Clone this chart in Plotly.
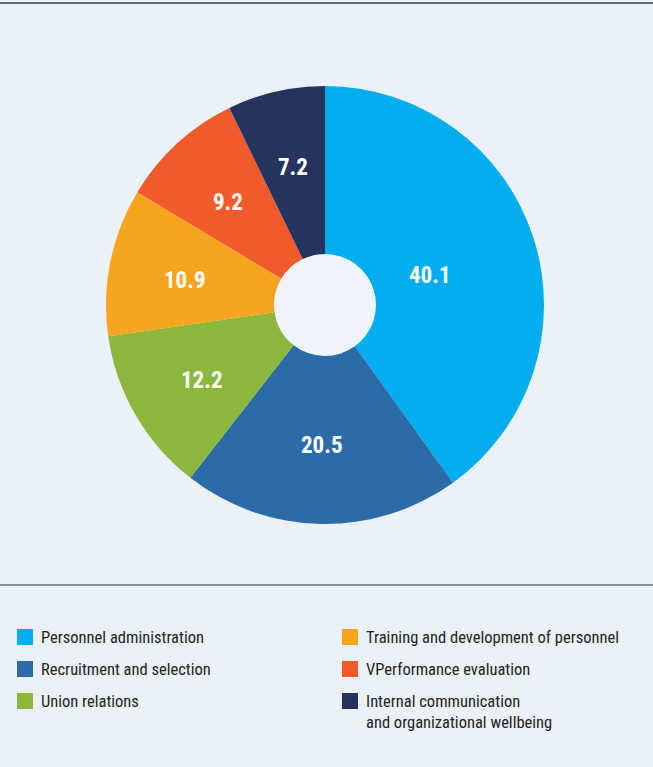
import math
import plotly.graph_objects as go

# Share of HR activity areas (%)
categories = [
    "Personnel administration",
    "Recruitment and selection",
    "Union relations",
    "Training and development of personnel",
    "VPerformance evaluation",
    "Internal communication<br>and organizational wellbeing",
]
values = [40.1, 20.5, 12.2, 10.9, 9.2, 7.2]
colors = ["#00AEEF", "#2B6BA8", "#8DB73C", "#F7A51F", "#F15B2B", "#26335F"]

W, H = 653, 767
BG = "#EAF1F8"
FONT = "Roboto Condensed, Roboto, sans-serif"

cx, cy, r = 325, 305, 219  # pie centre and radius in px
hole_px = 51

fig = go.Figure(
    go.Pie(
        labels=categories,
        values=values,
        marker=dict(colors=colors, line=dict(width=0)),
        sort=False,
        direction="clockwise",
        rotation=0,
        hole=hole_px / r,
        textinfo="none",
        showlegend=False,
        hoverinfo="label+value",
        domain=dict(x=[(cx - r) / W, (cx + r) / W], y=[1 - (cy + r) / H, 1 - (cy - r) / H]),
    )
)

shapes = [
    # slightly lighter disc showing through the hole
    dict(type="circle", xref="paper", yref="paper", layer="below",
         x0=(cx - hole_px) / W, x1=(cx + hole_px) / W,
         y0=1 - (cy + hole_px) / H, y1=1 - (cy - hole_px) / H,
         fillcolor="#EEF4FA", line=dict(width=0)),
    # top rule
    dict(type="line", xref="paper", yref="paper", x0=0, x1=1,
         y0=1 - 3 / H, y1=1 - 3 / H, line=dict(color="#3A3D42", width=1.5)),
    # divider above legend
    dict(type="line", xref="paper", yref="paper", x0=0, x1=1,
         y0=1 - 585 / H, y1=1 - 585 / H, line=dict(color="#6B6E72", width=1.5)),
]

annotations = []

# Value labels at each sector's centroid (clockwise from 12 o'clock)
total = sum(values)
cum = 0.0
for v in values:
    half = math.pi * v / total            # half of the sector angle
    mid = 2 * math.pi * (cum + v / 2) / total
    rc = (2 / 3) * r * math.sin(half) / half
    px = cx + rc * math.sin(mid)
    py = cy - rc * math.cos(mid) + 4      # small optical offset for the glyph box
    annotations.append(dict(xref="paper", yref="paper", x=px / W, y=1 - py / H,
                            xanchor="center", yanchor="middle", showarrow=False,
                            text=f"{v:.1f}",
                            font=dict(family=FONT, size=23, color="white", weight="bold")))
    cum += v

# Two-column legend: first three categories left, last three right
col_x = [17, 342]
row_y = [637, 669, 701]
sq = 16
for i, (name, col) in enumerate(zip(categories, colors)):
    c, rr = divmod(i, 3)
    x0, yc = col_x[c], row_y[rr]
    shapes.append(dict(type="rect", xref="paper", yref="paper",
                       x0=x0 / W, x1=(x0 + sq) / W,
                       y0=1 - (yc + sq / 2) / H, y1=1 - (yc - sq / 2) / H,
                       fillcolor=col, line=dict(width=0)))
    annotations.append(dict(xref="paper", yref="paper", x=(x0 + 22) / W, y=1 - (yc - 11) / H,
                            xanchor="left", yanchor="top", align="left",
                            text=name, showarrow=False,
                            font=dict(family=FONT, size=16.5, color="#231F20")))

fig.update_layout(
    width=W, height=H,
    margin=dict(l=0, r=0, t=0, b=0),
    paper_bgcolor=BG, plot_bgcolor=BG,
    shapes=shapes, annotations=annotations,
)

fig.write_html("out.html")
